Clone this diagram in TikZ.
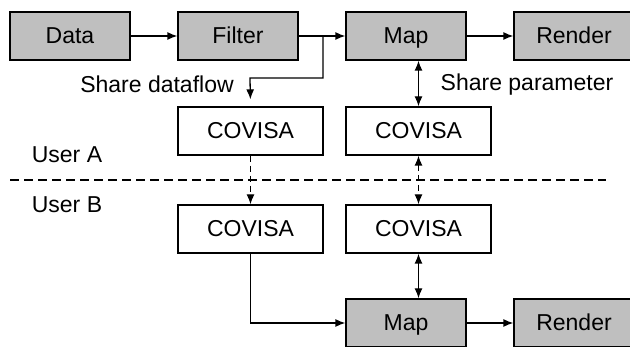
\documentclass[tikz,border=0pt]{standalone}
\usepackage{fontspec}
\setmainfont{Liberation Sans}
\usetikzlibrary{positioning,arrows.meta}

\begin{document}
\begin{tikzpicture}[x=1pt,y=-1pt,line width=1.3pt,
    stage/.style={draw,fill=black!25,minimum width=120pt,minimum height=48pt,inner sep=0pt,text height=21pt,text depth=5pt},
    covisa/.style={draw,fill=white,minimum width=145pt,minimum height=48pt,inner sep=0pt,text height=21pt,text depth=5pt},
    flow/.style={-{Latex[length=10pt,width=8pt]}},
    share/.style={{Latex[length=10pt,width=8pt]}-{Latex[length=10pt,width=8pt]}},
    cut/.style={dash pattern=on 6pt off 4pt}]

  \fontsize{23}{27}\selectfont
  \clip (0,0) rectangle (630,347);
  \useasboundingbox (0,0) rectangle (630,347);

  % Pipeline of user A
  \node[stage] (dataA) at (70,36) {Data};
  \node[stage] (filterA) at (238,36) {Filter};
  \node[stage] (mapA) at (406,36) {Map};
  \node[stage] (renderA) at (574,36) {Render};

  % COVISA blocks
  \node[covisa] (covA1) at (250.5,131) {COVISA};
  \node[covisa] (covA2) at (418.5,131) {COVISA};
  \node[covisa] (covB1) at (250.5,229) {COVISA};
  \node[covisa] (covB2) at (418.5,229) {COVISA};

  % Pipeline of user B
  \node[stage] (mapB) at (406,323) {Map};
  \node[stage] (renderB) at (574,323) {Render};

  % Users
  \node (userA) at (67,155) {User A};
  \node (userB) at (67,205) {User B};
  \draw[dash pattern=on 9pt off 5pt] (10,180) -- (606,180);

  % Horizontal flows
  \draw[flow] (dataA) -- (filterA);
  \draw[flow] (filterA) -- (mapA);
  \draw[flow] (mapA) -- (renderA);
  \draw[flow] (mapB) -- (renderB);
  \coordinate (split) at (323,36);
  \draw[flow,shorten >=7pt] (split) |- (250,78) -- (covA1.north);
  \node (dataflow) at (157,84) {Share dataflow};
  \draw[flow] (covB1.south) |- (mapB.west);

  % Shared parameters
  \draw[share] (mapA.south -| covA2) -- (covA2.north);
  \node (parameter) at (527,85) {Share parameter};
  \draw[share] (covB2.south) -- (mapB.north -| covB2);
  \draw[share,cut] (covA2.south) -- (covB2.north);
  \draw[flow,cut] (covA1.south) -- (covB1.north);

\end{tikzpicture}
\end{document}
